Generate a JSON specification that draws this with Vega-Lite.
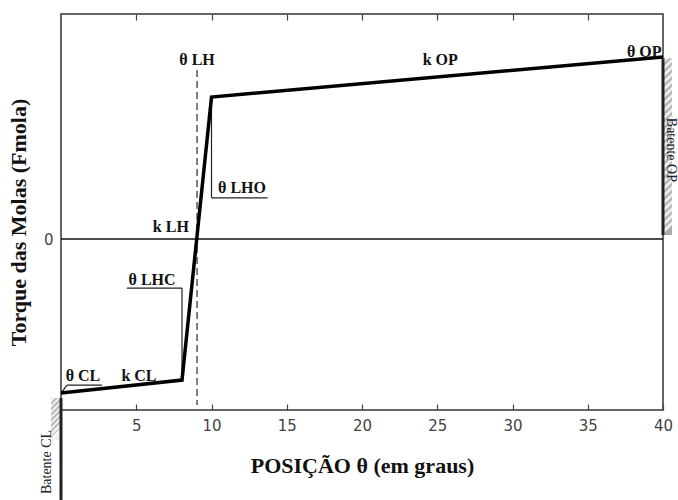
{
  "$schema": "https://vega.github.io/schema/vega-lite/v6.json",
  "width": 602,
  "height": 396,
  "autosize": {"type": "none"},
  "padding": {"left": 61, "top": 14, "right": 15, "bottom": 90},
  "background": "white",
  "config": {"view": {"stroke": "#333", "strokeWidth": 1.5}},
  "resolve": {"axis": {"x": "independent"}},
  "layer": [
    {
      "data": {"values": [{"x": 40, "x2": 40.6, "y": 1.8, "y2": 80.3}]},
      "mark": {"type": "rect", "fill": {"gradient": "linear", "x1": 0, "y1": 0, "x2": 0.05, "y2": 1, "stops": [
        {"offset": 0, "color": "#aaa"}, {"offset": 0.02, "color": "#fff"}, {"offset": 0.04, "color": "#aaa"}, {"offset": 0.06, "color": "#fff"}, {"offset": 0.08, "color": "#aaa"}, {"offset": 0.10, "color": "#fff"}, {"offset": 0.12, "color": "#aaa"}, {"offset": 0.14, "color": "#fff"}, {"offset": 0.16, "color": "#aaa"}, {"offset": 0.18, "color": "#fff"}, {"offset": 0.20, "color": "#aaa"}, {"offset": 0.22, "color": "#fff"}, {"offset": 0.24, "color": "#aaa"}, {"offset": 0.26, "color": "#fff"}, {"offset": 0.28, "color": "#aaa"}, {"offset": 0.30, "color": "#fff"}, {"offset": 0.32, "color": "#aaa"}, {"offset": 0.34, "color": "#fff"}, {"offset": 0.36, "color": "#aaa"}, {"offset": 0.38, "color": "#fff"}, {"offset": 0.40, "color": "#aaa"}, {"offset": 0.42, "color": "#fff"}, {"offset": 0.44, "color": "#aaa"}, {"offset": 0.46, "color": "#fff"}, {"offset": 0.48, "color": "#aaa"}, {"offset": 0.50, "color": "#fff"}, {"offset": 0.52, "color": "#aaa"}, {"offset": 0.54, "color": "#fff"}, {"offset": 0.56, "color": "#aaa"}, {"offset": 0.58, "color": "#fff"}, {"offset": 0.60, "color": "#aaa"}, {"offset": 0.62, "color": "#fff"}, {"offset": 0.64, "color": "#aaa"}, {"offset": 0.66, "color": "#fff"}, {"offset": 0.68, "color": "#aaa"}, {"offset": 0.70, "color": "#fff"}, {"offset": 0.72, "color": "#aaa"}, {"offset": 0.74, "color": "#fff"}, {"offset": 0.76, "color": "#aaa"}, {"offset": 0.78, "color": "#fff"}, {"offset": 0.80, "color": "#aaa"}, {"offset": 0.82, "color": "#fff"}, {"offset": 0.84, "color": "#aaa"}, {"offset": 0.86, "color": "#fff"}, {"offset": 0.88, "color": "#aaa"}, {"offset": 0.90, "color": "#fff"}, {"offset": 0.92, "color": "#aaa"}, {"offset": 0.94, "color": "#fff"}, {"offset": 0.96, "color": "#aaa"}, {"offset": 0.98, "color": "#fff"}, {"offset": 1, "color": "#aaa"}
      ]}},
      "encoding": {
        "x": {"field": "x", "type": "quantitative", "scale": {"domain": [0, 40], "nice": false, "zero": false}, "axis": null},
        "x2": {"field": "x2"},
        "y": {"field": "y", "type": "quantitative", "scale": {"domain": [-76, 100], "nice": false, "zero": false}, "axis": {"values": [0], "domain": false, "grid": false, "ticks": false, "labelFont": "DejaVu Sans", "labelFontSize": 15, "labelColor": "#444", "labelPadding": 8, "title": "Torque das Molas (Fmola)", "titleFont": "Liberation Serif", "titleFontSize": 22, "titleFontWeight": "bold", "titleColor": "#111", "titleBaseline": "middle", "titleX": -43, "titleY": 208}},
        "y2": {"field": "y2"}
      }
    },
    {
      "data": {"values": [{"x": -0.66, "x2": 0, "y": -89.3, "y2": -70.7}]},
      "mark": {"type": "rect", "fill": {"gradient": "linear", "x1": 0, "y1": 0, "x2": 0.24, "y2": 1, "stops": [
        {"offset": 0, "color": "#aaa"}, {"offset": 0.0625, "color": "#fff"}, {"offset": 0.125, "color": "#aaa"}, {"offset": 0.1875, "color": "#fff"}, {"offset": 0.25, "color": "#aaa"}, {"offset": 0.3125, "color": "#fff"}, {"offset": 0.375, "color": "#aaa"}, {"offset": 0.4375, "color": "#fff"}, {"offset": 0.5, "color": "#aaa"}, {"offset": 0.5625, "color": "#fff"}, {"offset": 0.625, "color": "#aaa"}, {"offset": 0.6875, "color": "#fff"}, {"offset": 0.75, "color": "#aaa"}, {"offset": 0.8125, "color": "#fff"}, {"offset": 0.875, "color": "#ccc"}, {"offset": 0.9375, "color": "#fff"}, {"offset": 1, "color": "#eee"}
      ]}},
      "encoding": {
        "x": {"field": "x", "type": "quantitative", "axis": null},
        "x2": {"field": "x2"},
        "y": {"field": "y", "type": "quantitative"},
        "y2": {"field": "y2"}
      }
    },
    {
      "data": {"values": [{"x": 40, "x2": 40, "y": 1.8, "y2": 80.3}, {"x": 0, "x2": 0, "y": -116, "y2": -70.7}]},
      "mark": {"type": "rule", "stroke": "#222", "strokeWidth": 3},
      "encoding": {
        "x": {"field": "x", "type": "quantitative", "axis": null},
        "x2": {"field": "x2"},
        "y": {"field": "y", "type": "quantitative"},
        "y2": {"field": "y2"}
      }
    },
    {
      "data": {"values": [{"x": 0, "x2": 40, "y": 0, "y2": 0}]},
      "mark": {"type": "rule", "stroke": "#111", "strokeWidth": 1.5},
      "encoding": {
        "x": {"field": "x", "type": "quantitative", "axis": {"orient": "top", "values": [5, 10, 15, 20, 25, 30, 35], "labels": false, "title": null, "domain": false, "grid": false, "tickSize": -6, "tickColor": "#444", "tickWidth": 1.2}},
        "x2": {"field": "x2"},
        "y": {"field": "y", "type": "quantitative"},
        "y2": {"field": "y2"}
      }
    },
    {
      "data": {"values": [{"x": 9.04, "x2": 9.04, "y": 75.1, "y2": -73.8}]},
      "mark": {"type": "rule", "stroke": "#555", "strokeWidth": 1.5, "strokeDash": [7, 4]},
      "encoding": {
        "x": {"field": "x", "type": "quantitative", "axis": null},
        "x2": {"field": "x2"},
        "y": {"field": "y", "type": "quantitative"},
        "y2": {"field": "y2"}
      }
    },
    {
      "data": {"values": [
        {"x": 10, "x2": 10, "y": 63.1, "y2": 18.3},
        {"x": 10, "x2": 13.73, "y": 18.3, "y2": 18.3},
        {"x": 4.38, "x2": 8.04, "y": -21.8, "y2": -21.8},
        {"x": 8.04, "x2": 8.04, "y": -21.8, "y2": -62.7},
        {"x": 0.05, "x2": 0.4, "y": -68.1, "y2": -64.9},
        {"x": 0.4, "x2": 2.72, "y": -64.9, "y2": -64.9}
      ]},
      "mark": {"type": "rule", "stroke": "#222", "strokeWidth": 1.2},
      "encoding": {
        "x": {"field": "x", "type": "quantitative", "axis": null},
        "x2": {"field": "x2"},
        "y": {"field": "y", "type": "quantitative"},
        "y2": {"field": "y2"}
      }
    },
    {
      "data": {"values": [{"x": 0, "y": -68.4}, {"x": 8.04, "y": -62.7}, {"x": 10, "y": 63.1}, {"x": 40, "y": 80.9}]},
      "mark": {"type": "line", "stroke": "#000", "strokeWidth": 3.5},
      "encoding": {
        "x": {"field": "x", "type": "quantitative", "axis": {"orient": "bottom", "values": [5, 10, 15, 20, 25, 30, 35, 40], "domain": false, "grid": false, "tickSize": -6, "tickColor": "#444", "tickWidth": 1.2, "labelFont": "DejaVu Sans", "labelFontSize": 15, "labelColor": "#444", "labelPadding": 14, "labelFlush": false, "title": "POSIÇÃO θ (em graus)", "titleFont": "Liberation Serif", "titleFontSize": 22, "titleFontWeight": "bold", "titleColor": "#111", "titleBaseline": "middle", "titleY": 55}},
        "y": {"field": "y", "type": "quantitative"}
      }
    },
    {
      "data": {"values": [
        {"label": "θ LH", "x": 9.04, "y": 79.6},
        {"label": "k OP", "x": 25.2, "y": 79.6},
        {"label": "θ OP", "x": 38.75, "y": 83.3},
        {"label": "θ LHO", "x": 12.03, "y": 22.7},
        {"label": "k LH", "x": 7.3, "y": 5.3},
        {"label": "θ LHC", "x": 6.05, "y": -18.2},
        {"label": "θ CL", "x": 1.46, "y": -60.9},
        {"label": "k CL", "x": 5.18, "y": -60.9}
      ]},
      "mark": {"type": "text", "font": "Liberation Serif", "fontWeight": "bold", "fontSize": 16, "color": "#111", "align": "center", "baseline": "middle"},
      "encoding": {
        "x": {"field": "x", "type": "quantitative", "axis": null},
        "y": {"field": "y", "type": "quantitative"},
        "text": {"field": "label"}
      }
    },
    {
      "data": {"values": [{"label": "Batente CL", "x": -0.93, "y": -99.1}]},
      "mark": {"type": "text", "font": "Liberation Serif", "fontSize": 14, "color": "#222", "align": "center", "baseline": "middle", "angle": 270},
      "encoding": {
        "x": {"field": "x", "type": "quantitative", "axis": null},
        "y": {"field": "y", "type": "quantitative"},
        "text": {"field": "label"}
      }
    },
    {
      "data": {"values": [{"label": "Batente OP", "x": 40.55, "y": 39.6}]},
      "mark": {"type": "text", "font": "Liberation Serif", "fontSize": 14, "color": "#222", "align": "center", "baseline": "middle", "angle": 90},
      "encoding": {
        "x": {"field": "x", "type": "quantitative", "axis": null},
        "y": {"field": "y", "type": "quantitative"},
        "text": {"field": "label"}
      }
    }
  ]
}
